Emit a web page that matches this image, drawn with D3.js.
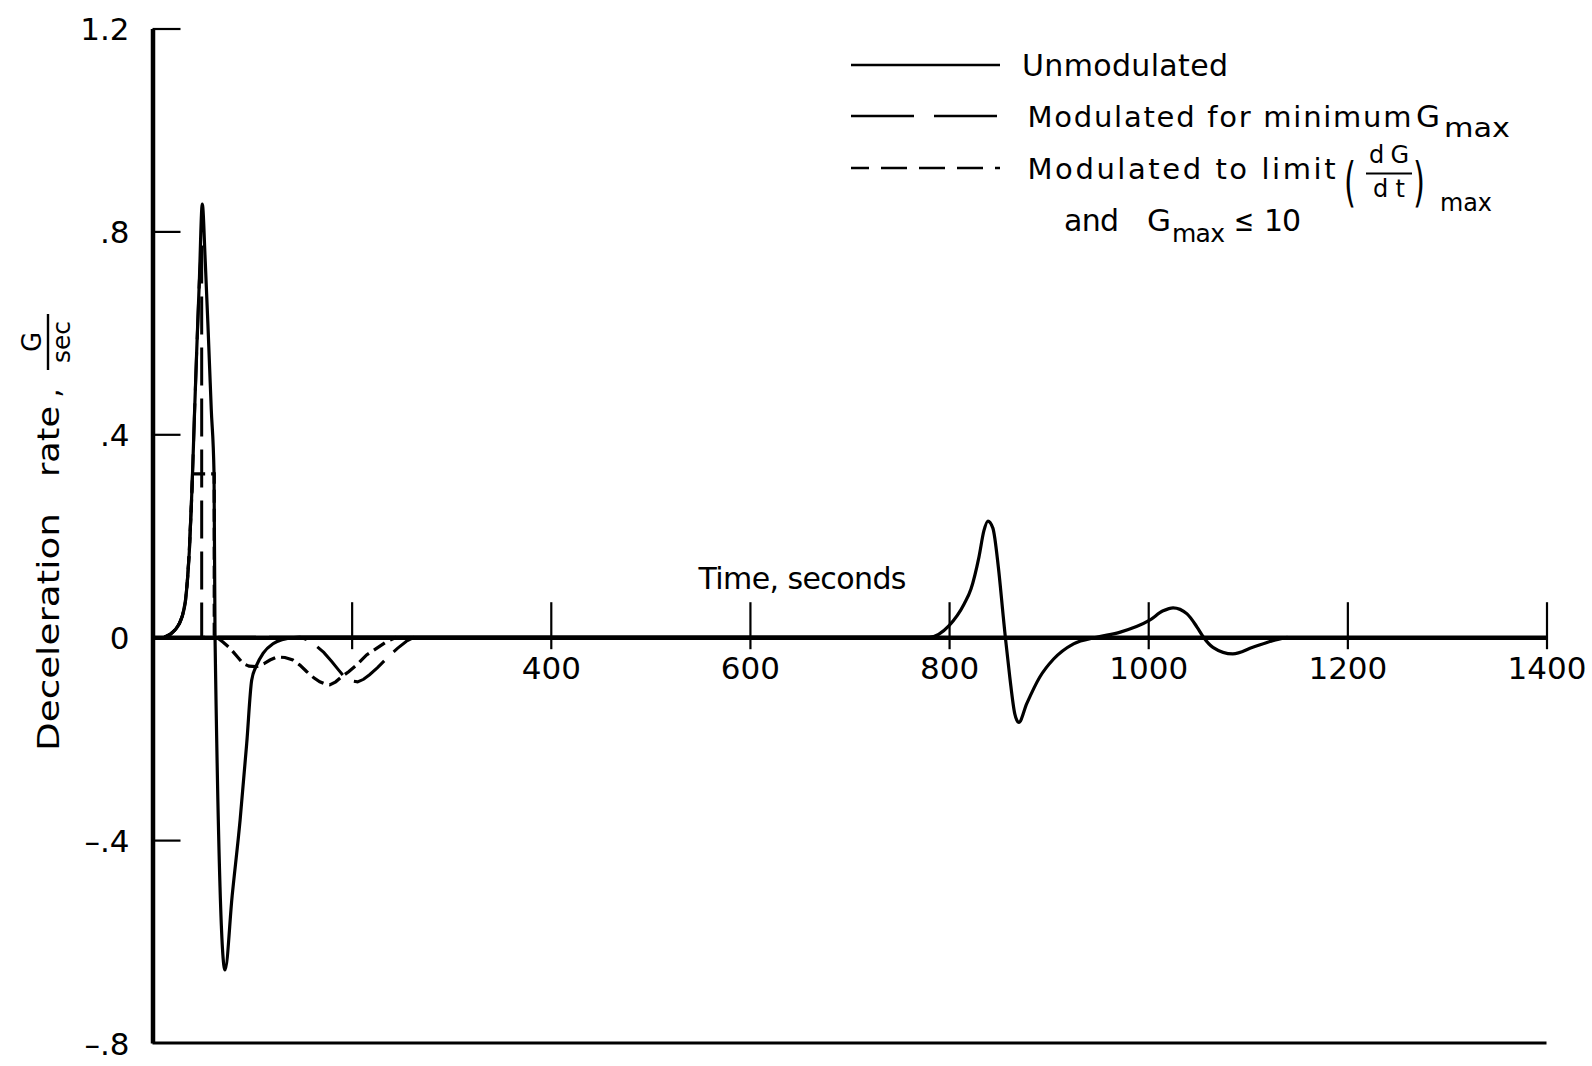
<!DOCTYPE html>
<html><head><meta charset="utf-8">
<script src="https://cdn.jsdelivr.net/npm/d3@7"></script>
<style>
body{margin:0;background:#fff}
text{font-family:"DejaVu Sans","Liberation Sans",sans-serif;fill:#000}
</style>
</head><body>
<svg id="c" width="1592" height="1066"></svg>
<script>
// ---- data ----
const xTicks = [200, 400, 600, 800, 1000, 1200, 1400];
const xTickLabels = ["", "400", "600", "800", "1000", "1200", "1400"];
const yTicks = [1.2, 0.8, 0.4, 0, -0.4, -0.8];
const yTickLabels = ["1.2", ".8", ".4", "0", "\u2013.4", "\u2013.8"];

const unmodT = [12,18,23,27,30,33,35,37,39,40.5,42,44.5,47,50,53,56,59,61.8,62.8,72.8,80,88,94.6,99.6,104.6,111,121,130,148,500,780,800,815,822,830,835,839,844,849.5,854.5,856.5,861,866,870,878,891,905,925,948,972,1001,1015,1025,1039,1049,1055.5,1065,1085,1105,1125,1140];
const unmodV = [0,0.006,0.015,0.027,0.042,0.07,0.11,0.17,0.26,0.34,0.43,0.57,0.70,0.854,0.74,0.60,0.45,0.323,0,-0.656,-0.51,-0.36,-0.21,-0.085,-0.055,-0.032,-0.013,-0.005,0,0,0,0.023,0.065,0.095,0.158,0.21,0.229,0.215,0.138,0.039,0,-0.079,-0.151,-0.168,-0.131,-0.079,-0.043,-0.013,0,0.01,0.033,0.052,0.058,0.046,0.02,0,-0.02,-0.033,-0.02,-0.007,0];

const minGT = [12,18,23,27,30,33,35,37,39,40.5,42,44.5,47,49.4,49.4,148,155,163,172,180,187,193,200,206,212,218,226,236,246,255,263];
const minGV = [0,0.006,0.015,0.027,0.042,0.07,0.11,0.17,0.26,0.34,0.43,0.57,0.70,0.78,0,0,-0.005,-0.015,-0.03,-0.048,-0.065,-0.079,-0.086,-0.088,-0.083,-0.074,-0.06,-0.04,-0.022,-0.008,0];

const limT = [12,18,23,27,30,33,35,37,39,40.3,62,62,64.5,71,78,85,91,97,104.5,112,118,125,133,141,148,155,162,168,173,178,184,190,197,205,215,225,235,245];
const limV = [0,0.006,0.015,0.027,0.042,0.07,0.11,0.17,0.26,0.322,0.322,0,0,-0.01,-0.022,-0.038,-0.052,-0.057,-0.058,-0.052,-0.045,-0.039,-0.04,-0.045,-0.055,-0.068,-0.08,-0.088,-0.092,-0.094,-0.088,-0.078,-0.068,-0.055,-0.035,-0.022,-0.009,0];

// ---- chart ----
const svg = d3.select("#c");
const x = d3.scaleLinear().domain([0, 1400]).range([152.5, 1546.5]);
const y = d3.scaleLinear().domain([-0.8, 1.2]).range([1043, 28.5]);

// x axis through zero with crossing ticks
const xAxis = svg.append("g").attr("transform", `translate(0,${y(0)})`)
  .call(d3.axisBottom(x).tickValues(xTicks).tickFormat((d,i) => xTickLabels[i]).tickSizeOuter(0));
xAxis.select(".domain").attr("stroke", "#000").attr("stroke-width", 4.5);
xAxis.selectAll(".tick line").attr("y1", -35).attr("y2", 12).attr("stroke", "#000").attr("stroke-width", 2.2);
xAxis.selectAll(".tick text").attr("y", 31).attr("dy", "0.36em").attr("font-size", 31).attr("font-family", "DejaVu Sans");

// y axis
const yAxis = svg.append("g").attr("transform", `translate(${x(0)},0)`)
  .call(d3.axisRight(y).tickValues(yTicks.filter(v => v !== 0 && v !== -0.8)).tickSize(28).tickFormat("").tickSizeOuter(0));
yAxis.select(".domain").attr("stroke", "#000").attr("stroke-width", 4.5);
yAxis.selectAll(".tick line").attr("stroke", "#000").attr("stroke-width", 2.2);

const yLab = svg.append("g").attr("transform", `translate(${x(0) - 20},0)`)
  .call(d3.axisLeft(y).tickValues(yTicks).tickFormat((d,i) => yTickLabels[i]).tickSize(0));
yLab.select(".domain").remove();
yLab.selectAll(".tick text").attr("font-size", 31).attr("font-family", "DejaVu Sans").attr("dy", "0.36em");

// bottom frame line at -0.8
svg.append("line").attr("x1", x(0)).attr("x2", x(1400)).attr("y1", y(-0.8)).attr("y2", y(-0.8))
  .attr("stroke", "#000").attr("stroke-width", 2.8);

// curves
const solid = d3.line().x(d => x(d[0])).y(d => y(d[1])).curve(d3.curveMonotoneX);
const lin = d3.line().x(d => x(d[0])).y(d => y(d[1])).curve(d3.curveLinear);

svg.append("path").datum(unmodT.map((t,i) => [t, unmodV[i]]))
  .attr("d", solid).attr("fill", "none").attr("stroke", "#000").attr("stroke-width", 3.2).attr("stroke-linejoin", "round");
svg.append("path").datum(minGT.map((t,i) => [t, minGV[i]]))
  .attr("d", lin).attr("fill", "none").attr("stroke", "#000").attr("stroke-width", 3).attr("stroke-dasharray", "38,13");
svg.append("path").datum(limT.map((t,i) => [t, limV[i]]))
  .attr("d", lin).attr("fill", "none").attr("stroke", "#000").attr("stroke-width", 3.2).attr("stroke-dasharray", "13,6");

// axis titles
svg.append("text").attr("x", 698.5).attr("y", 589).attr("font-size", 30)
  .attr("textLength", 208).attr("lengthAdjust", "spacing").text("Time, seconds");

const yt = svg.append("g").attr("transform", "rotate(-90)");
yt.append("text").attr("x", -751).attr("y", 59).attr("font-size", 31)
  .attr("textLength", 238).attr("lengthAdjust", "spacingAndGlyphs").text("Deceleration");
yt.append("text").attr("x", -477).attr("y", 59).attr("font-size", 31)
  .attr("textLength", 71).attr("lengthAdjust", "spacingAndGlyphs").text("rate");
yt.append("text").attr("x", -398).attr("y", 59).attr("font-size", 31).text(",");
yt.append("text").attr("x", -342).attr("y", 41).attr("font-size", 26).attr("text-anchor", "middle").text("G");
yt.append("line").attr("x1", -370).attr("x2", -314).attr("y1", 48).attr("y2", 48).attr("stroke", "#000").attr("stroke-width", 2.4);
yt.append("text").attr("x", -342).attr("y", 70).attr("font-size", 25).attr("text-anchor", "middle").text("sec");

// legend
const lg = svg.append("g");
lg.append("line").attr("x1", 851).attr("x2", 1000).attr("y1", 65).attr("y2", 65).attr("stroke", "#000").attr("stroke-width", 2.6);
lg.append("line").attr("x1", 851).attr("x2", 1000).attr("y1", 116).attr("y2", 116).attr("stroke", "#000").attr("stroke-width", 2.6).attr("stroke-dasharray", "63,20");
lg.append("line").attr("x1", 851).attr("x2", 1000).attr("y1", 168).attr("y2", 168).attr("stroke", "#000").attr("stroke-width", 2.6).attr("stroke-dasharray", "26,12").attr("stroke-dashoffset", 8);

function t(xp, yp, s, fs, len, anchor, adj) {
  const e = lg.append("text").attr("x", xp).attr("y", yp).attr("font-size", fs).text(s);
  if (len) e.attr("textLength", len).attr("lengthAdjust", adj || "spacing");
  if (anchor) e.attr("text-anchor", anchor);
  return e;
}
t(1022, 76, "Unmodulated", 30, 206);
t(1027.5, 127, "Modulated  for  minimum", 29, 384);
t(1416, 127, "G", 30, 24, null, "spacingAndGlyphs");
t(1444, 137, "max", 27, 66, null, "spacingAndGlyphs");
t(1027.5, 179, "Modulated  to  limit", 29, 308);
t(1344, 201, "(", 54, 12, null, "spacingAndGlyphs");
t(1389, 163, "dG", 24, 40, "middle");
lg.append("line").attr("x1", 1366).attr("x2", 1412).attr("y1", 173.5).attr("y2", 173.5).attr("stroke", "#000").attr("stroke-width", 2);
t(1389, 197, "dt", 24, 32, "middle");
t(1413, 201, ")", 54, 12, null, "spacingAndGlyphs");
t(1440, 211, "max", 25, 52, null, "spacingAndGlyphs");
t(1064, 231, "and", 30, 55);
t(1147, 231, "G", 30, 24, null, "spacingAndGlyphs");
t(1172, 242, "max", 25, 53);
t(1234, 231, "\u2264", 30, 20, null, "spacingAndGlyphs");
t(1264, 231, "10", 30, 37);
</script>
</body></html>
